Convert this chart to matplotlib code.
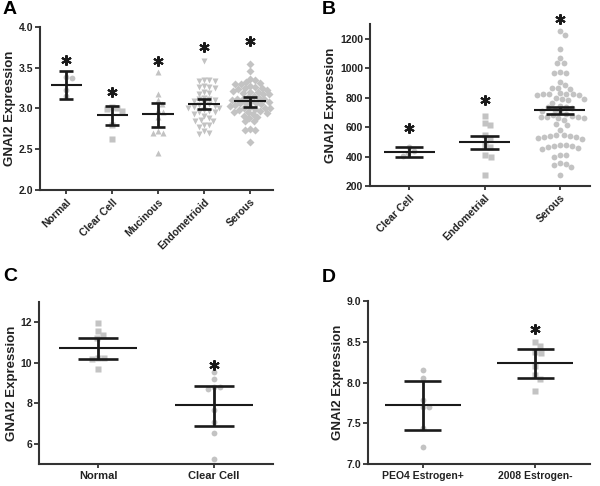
import numpy as np
import matplotlib
matplotlib.use("Agg")
import matplotlib.pyplot as plt

plt.rcParams['font.family'] = ['Liberation Sans', 'DejaVu Sans']
plt.rcParams['font.weight'] = 'bold'
plt.rcParams['axes.labelweight'] = 'bold'

# ---- panel A: tumour subtypes ----
a_groups = ["Normal", "Clear Cell", "Mucinous", "Endometrioid", "Serous"]
a_markers = ["o", "s", "^", "v", "D"]
a_normal = [3.37, 3.38, 3.22, 3.15]
a_clear = [3.02, 3.01, 2.99, 2.97, 2.80, 2.62]
a_mucinous = [3.44, 3.18, 3.10, 3.05, 2.98, 2.95, 2.90, 2.72, 2.70, 2.70, 2.45]
a_endo = [3.58, 3.35, 3.35, 3.34, 3.34, 3.27, 3.26, 3.26, 3.25, 3.20, 3.19, 3.18,
          3.13, 3.12, 3.11, 3.10, 3.09, 3.06, 3.05, 3.04, 3.03, 3.02, 3.01, 3.00,
          2.98, 2.97, 2.96, 2.95, 2.93, 2.91, 2.88, 2.86, 2.85, 2.84, 2.80, 2.79,
          2.77, 2.72, 2.70, 2.69]
a_serous = [3.54, 3.46, 3.36, 3.35, 3.32, 3.31, 3.30, 3.30, 3.27, 3.26, 3.25, 3.25,
            3.24, 3.23, 3.21, 3.20, 3.20, 3.19, 3.18, 3.17, 3.15, 3.14, 3.13, 3.12,
            3.12, 3.11, 3.10, 3.09, 3.08, 3.07, 3.06, 3.06, 3.05, 3.04, 3.03, 3.02,
            3.01, 3.00, 3.00, 2.99, 2.98, 2.97, 2.96, 2.95, 2.94, 2.93, 2.91, 2.90,
            2.88, 2.85, 2.84, 2.75, 2.74, 2.73, 2.59]
a_means = [3.28, 2.92, 2.93, 3.05, 3.09]
a_lo = [3.11, 2.80, 2.77, 2.99, 3.02]
a_hi = [3.46, 3.03, 3.07, 3.11, 3.14]
a_stars = [3.59, 3.20, 3.58, 3.75, 3.82]

# ---- panel B ----
b_groups = ["Clear Cell", "Endometrial", "Serous"]
b_markers = ["o", "s", "o"]
b_clear = [468, 440, 425, 404]
b_endo = [676, 628, 615, 545, 520, 480, 467, 411, 400, 272]
b_serous = [1252, 1225, 1130, 1072, 1040, 1035, 975, 970, 968, 910, 885, 870, 865,
            862, 830, 828, 826, 825, 823, 820, 818, 800, 795, 790, 785, 765, 745,
            740, 735, 730, 720, 712, 700, 690, 680, 675, 672, 670, 668, 665, 660,
            650, 620, 612, 580, 550, 545, 540, 538, 535, 530, 525, 520, 480, 478,
            475, 470, 465, 460, 455, 412, 408, 400, 355, 350, 345, 330, 272]
b_means = [433, 501, 717]
b_lo = [399, 452, 690]
b_hi = [467, 540, 739]
b_stars = [594, 785, 1336]

# ---- panel C ----
c_groups = ["Normal", "Clear Cell"]
c_markers = ["s", "o"]
c_normal = [11.95, 11.58, 11.37, 11.20, 10.25, 10.22, 10.20, 9.67]
c_clear = [9.52, 9.19, 8.82, 8.80, 8.72, 7.69, 7.08, 6.53, 5.27]
c_means = [10.71, 7.91]
c_lo = [10.17, 6.88]
c_hi = [11.21, 8.85]
c_stars = [np.nan, 9.9]

# ---- panel D ----
d_groups = ["PEO4 Estrogen+", "2008 Estrogen-"]
d_markers = ["o", "s"]
d_peo4 = [8.15, 8.06, 7.79, 7.70, 7.70, 7.44, 7.21]
d_2008 = [8.50, 8.45, 8.37, 8.36, 8.20, 8.09, 8.04, 7.89]
d_means = [7.73, 8.24]
d_lo = [7.42, 8.05]
d_hi = [8.02, 8.41]
d_stars = [np.nan, 8.66]

INK = "#1a1a1a"
DOT = "#c3c3c3"


def swarm_x(ax, x0, vals, gap):
    # simple beeswarm in pixel space
    pts = ax.transData.transform(np.column_stack([np.full(len(vals), x0), vals]))
    order = np.argsort(-pts[:, 1])
    placed = []
    off = np.zeros(len(vals))
    for i in order:
        py = pts[i, 1]
        near = [(ox, oy) for ox, oy in placed if abs(oy - py) < gap]
        cands = [0.0]
        for ox, oy in near:
            dx = np.sqrt(gap ** 2 - (oy - py) ** 2)
            cands += [ox + dx, ox - dx]
        cands.sort(key=abs)
        for c in cands:
            if all((c - ox) ** 2 + (py - oy) ** 2 >= gap ** 2 - 1e-6 for ox, oy in near):
                break
        placed.append((c, py))
        off[i] = c
    back = ax.transData.inverted().transform(np.column_stack([pts[:, 0] + off, pts[:, 1]]))
    return back[:, 0]


def draw_panel(ax, names, samples, markers, means, lo, hi, stars, xlim, ylim, yticks,
               fmt, cap, rot=0, xfs=8, gap=6.2):
    ax.set_xlim(*xlim)
    ax.set_ylim(*ylim)
    x = np.arange(len(names))
    for i, vals in enumerate(samples):
        xs = swarm_x(ax, i, vals, gap)
        ms = 3.6 if markers[i] == "D" else 4.2
        ax.plot(xs, vals, ls="none", marker=markers[i], ms=ms, color=DOT, mec="none",
                zorder=2, clip_on=False)
    ax.hlines(means, x - 0.34, x + 0.34, color=INK, lw=1.5, zorder=5)
    ax.hlines(lo, x - cap, x + cap, color=INK, lw=1.9, zorder=5)
    ax.hlines(hi, x - cap, x + cap, color=INK, lw=1.9, zorder=5)
    ax.vlines(x, lo, hi, color=INK, lw=2.0, zorder=5)
    ax.plot(x, stars, ls="none", marker=(6, 2, 0), ms=7.5, mew=1.5, color=INK,
            clip_on=False, zorder=6)
    ax.set_yticks(yticks)
    ax.set_yticklabels([fmt % t for t in yticks], fontsize=7.5)
    ax.set_xticks(x)
    if rot:
        ax.set_xticklabels(names, rotation=rot, ha="right", rotation_mode="anchor",
                           fontsize=xfs)
    else:
        ax.set_xticklabels(names, fontsize=xfs)
    ax.set_ylabel("GNAI2 Expression", fontsize=9.5, color="#222222", labelpad=2)
    for s in ["top", "right"]:
        ax.spines[s].set_visible(False)
    for s in ["left", "bottom"]:
        ax.spines[s].set_linewidth(1.5)
        ax.spines[s].set_color("#333333")
    ax.tick_params(axis="y", direction="out", length=3.5, width=1.3, pad=1.5,
                   colors="#333333", labelcolor="#222222")
    ax.tick_params(axis="x", direction="out", length=3, width=1.3, pad=2,
                   colors="#333333", labelcolor="#222222")


fig = plt.figure(figsize=(6, 4.86), dpi=100)

axA = fig.add_axes([40 / 600, 1 - 190 / 486, 233 / 600, 163.3 / 486])
axB = fig.add_axes([370 / 600, 1 - 186 / 486, 220 / 600, 161.7 / 486])
axC = fig.add_axes([39 / 600, 1 - 464 / 486, 234 / 600, 162 / 486])
axD = fig.add_axes([368 / 600, 1 - 464 / 486, 222 / 600, 163 / 486])

draw_panel(axA, a_groups, [a_normal, a_clear, a_mucinous, a_endo, a_serous], a_markers,
           a_means, a_lo, a_hi, a_stars, (-0.57, 4.5), (2.0, 4.0),
           [2.0, 2.5, 3.0, 3.5, 4.0], "%.1f", 0.15, rot=45, xfs=7.5, gap=5.4)
draw_panel(axB, b_groups, [b_clear, b_endo, b_serous], b_markers,
           b_means, b_lo, b_hi, b_stars, (-0.52, 2.4), (200, 1300),
           [200, 400, 600, 800, 1000, 1200], "%d", 0.19, rot=45, xfs=7.5)
draw_panel(axC, c_groups, [c_normal, c_clear], c_markers,
           c_means, c_lo, c_hi, c_stars, (-0.51, 1.51), (5, 13),
           [6, 8, 10, 12], "%d", 0.17, xfs=8)
draw_panel(axD, d_groups, [d_peo4, d_2008], d_markers,
           d_means, d_lo, d_hi, d_stars, (-0.49, 1.49), (7.0, 9.0),
           [7.0, 7.5, 8.0, 8.5, 9.0], "%.1f", 0.165, xfs=7.5)

for lab, (px, py) in zip("ABCD", [(3, 1), (322, 1), (3, 268), (322, 269)]):
    fig.text(px / 600, 1 - py / 486, lab, fontsize=14, fontweight="bold",
             va="top", ha="left", color="black")

fig.savefig("out.png", dpi=100)
